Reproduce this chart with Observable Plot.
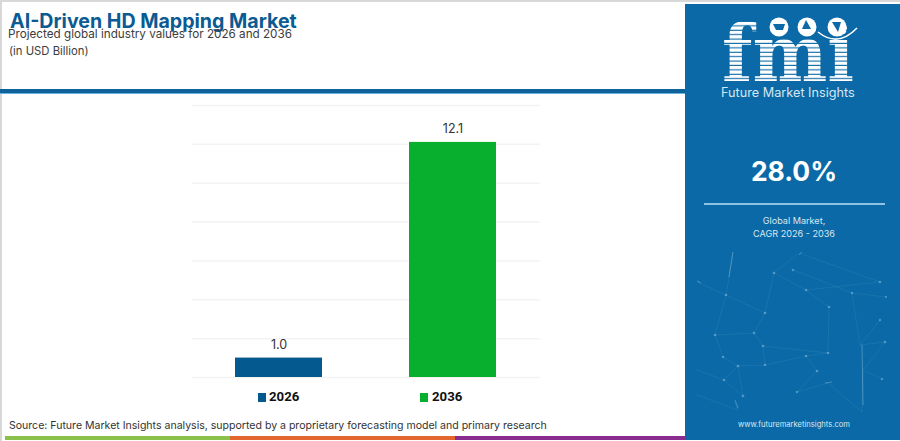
<!DOCTYPE html>
<html>
<head>
<meta charset="utf-8">
<script src="https://cdn.jsdelivr.net/npm/d3@7"></script>
<script src="https://cdn.jsdelivr.net/npm/@observablehq/plot@0.6"></script>
<style>
html,body{margin:0;padding:0;background:#fff;width:900px;height:441px;overflow:hidden}
body{position:relative;font-family:Inter,"Noto Sans",sans-serif}
#chart{position:absolute;left:0;top:0}
#chart svg{display:block;background:transparent}
.t{position:absolute;white-space:nowrap}
.b{position:absolute}
</style>
</head>
<body>
<div class="b" style="left:0;top:0;width:900px;height:2px;background:#d8d8d8"></div>
<div class="b" style="left:0;top:0;width:2px;height:441px;background:#d8d8d8"></div>
<div class="b" style="left:0;top:89px;width:686px;height:4px;background:#0f639c"></div>
<div class="b" style="left:0;top:93px;width:686px;height:1px;background:#6fb3dd"></div>
<div id="chart"></div>
<div class="t" id="title" style="left:10px;top:8px;font-size:19.6px;line-height:26px;font-weight:700;color:#0b5b92">AI-Driven HD Mapping Market</div>
<div class="t" style="left:8px;top:26px;font-size:11.7px;line-height:16px;color:#3c3c3c">Projected global industry values for 2026 and 2036</div>
<div class="t" style="left:9px;top:43px;font-size:11.3px;line-height:16px;color:#3c3c3c">(in USD Billion)</div>
<div class="b" style="left:258px;top:393px;width:8px;height:9px;background:#04598f"></div>
<div class="t" style="left:269px;top:389px;font-family:Roboto,sans-serif;font-size:13.2px;line-height:16px;font-weight:700;color:#111">2026</div>
<div class="b" style="left:420px;top:393px;width:8px;height:9px;background:#08ae2d"></div>
<div class="t" style="left:432px;top:389px;font-family:Roboto,sans-serif;font-size:13.2px;line-height:16px;font-weight:700;color:#111">2036</div>
<div class="t" style="left:9px;top:418px;font-size:10.55px;line-height:16px;color:#333">Source: Future Market Insights analysis, supported by a proprietary forecasting model and primary research</div>
<div class="b" style="left:5px;top:436px;width:225px;height:4px;background:#8bc04a"></div>
<div class="b" style="left:230px;top:436px;width:225px;height:4px;background:#e4662f"></div>
<div class="b" style="left:455px;top:436px;width:230px;height:4px;background:#8a2b8f"></div>
<div class="b" style="left:685px;top:4px;width:215px;height:436px;background:#0a69a6"></div>
<svg class="b" style="left:685px;top:4px" width="215" height="436" viewBox="685 4 215 436">
  <defs>
    <pattern id="st" width="4" height="4.4" patternUnits="userSpaceOnUse">
      <rect width="4" height="3.3" fill="#fff"/>
    </pattern>
    <filter id="soft"><feGaussianBlur stdDeviation=".45"/></filter>
  </defs>
  <g font-family="'DejaVu Serif',serif" font-weight="700" fill="url(#st)">
    <text x="722" y="81" font-size="78" textLength="132" lengthAdjust="spacingAndGlyphs">fmi</text>
  </g>
  <circle cx="779" cy="27" r="9.5" fill="#fff"/><circle cx="807" cy="27" r="9.5" fill="#fff"/><circle cx="837" cy="27" r="9.5" fill="#fff"/>
  <path d="M773 24h12l-2 6h-7z" fill="#0a69a6"/><path d="M806 20l5 9h-9z" fill="#0a69a6"/><path d="M832 22h9l-3 10z" fill="#0a69a6"/>
  <path d="M818 32q20 16 39 -4" fill="none" stroke="#fff" stroke-width="1.5"/>
  <g filter="url(#soft)">
    <g stroke="#9fcbe4" stroke-opacity=".15" stroke-width=".7" fill="none">
      <path d="M733 252L729 277L726 295L697 282M726 295L765 313L774 273L799 253L880 282L806 290L774 273M793 270L852 293L886 297M806 290L829 307L828 353L763 346L754 333L715 335L723 357L738 366L765 365L763 346M715 335L726 295M765 313L754 333M738 366L724 380L743 396L738 366M765 365L806 356L817 371L797 392L828 383L862 412M806 356L828 353M860 345L885 342L863 370L862 412M860 345L852 293M735 403L738 410L697 395M724 380L697 370M880 320L860 345M882 379L863 370"/>
    </g>
    <g stroke="#b8d9ec" stroke-opacity=".35" stroke-width="1" fill="none">
      <path d="M733 252L729 277M735 400L738 408M825 383L832 382M862 345L863 405M697 281L701 283M799 255L802 252"/>
    </g>
    <g fill="#b8d9ec" fill-opacity=".4">
      <circle cx="726" cy="295" r="1.3"/><circle cx="774" cy="273" r="1.3"/><circle cx="793" cy="270" r="1.2"/><circle cx="880" cy="282" r="1.3"/><circle cx="806" cy="290" r="1.3"/><circle cx="852" cy="293" r="1.2"/><circle cx="886" cy="297" r="1.1"/><circle cx="765" cy="313" r="1.3"/><circle cx="829" cy="307" r="1.3"/><circle cx="880" cy="320" r="1.2"/><circle cx="754" cy="333" r="1.3"/><circle cx="715" cy="335" r="1.3"/><circle cx="763" cy="346" r="1.3"/><circle cx="806" cy="356" r="1.3"/><circle cx="828" cy="353" r="1.3"/><circle cx="885" cy="342" r="1.3"/><circle cx="723" cy="357" r="1.3"/><circle cx="738" cy="366" r="1.3"/><circle cx="765" cy="365" r="1.3"/><circle cx="817" cy="371" r="1.3"/><circle cx="724" cy="380" r="1.3"/><circle cx="743" cy="396" r="1.3"/><circle cx="797" cy="392" r="1.2"/><circle cx="882" cy="379" r="1.2"/>
    </g>
  </g>
  <rect x="704" y="203" width="181" height="2" fill="#8fc3e3"/>
</svg>
<div class="t" style="left:721px;top:85px;font-size:12.7px;line-height:16px;color:#d5e6f2">Future Market Insights</div>
<div class="t" style="left:685px;top:154px;width:218px;text-align:center;font-size:26.5px;line-height:34px;font-weight:700;color:#fff">28.0%</div>
<div class="t" style="left:685px;top:215px;width:218px;text-align:center;font-size:9.1px;line-height:12.5px;color:#d7e8f3">Global Market,<br>CAGR 2026 - 2036</div>
<div class="t" style="left:685px;top:419px;width:218px;text-align:center;font-size:7.6px;line-height:12px;color:#d7e8f3">www.futuremarketinsights.com</div>
<script>
const years = ["2026", "2036"];
const values = [1.0, 12.1];
const labels = ["1.0", "12.1"];
const colors = ["#04598f", "#08ae2d"];
const gridTicks = [0, 2, 4, 6, 8, 10, 12, 14];
const rows = years.map((year, i) => ({year, value: values[i], label: labels[i], color: colors[i]}));
const plot = Plot.plot({
  width: 900,
  height: 441,
  marginLeft: 192,
  marginRight: 360,
  marginTop: 105,
  marginBottom: 64,
  style: {background: "transparent", fontFamily: "Inter, 'Noto Sans', sans-serif"},
  x: {domain: years, range: [191, 539], paddingInner: 0.5, paddingOuter: 0.25, axis: null},
  y: {domain: [0, 14], range: [377, 105], axis: null},
  marks: [
    Plot.ruleY(gridTicks, {stroke: "#f3f3f3", strokeWidth: 1.5}),
    Plot.barY(rows, {x: "year", y: "value", fill: "color"}),
    Plot.text(rows, {x: "year", y: "value", text: "label", dy: -13, fontSize: 12.5, fill: "#333"})
  ]
});
document.getElementById("chart").appendChild(plot);
</script>
</body>
</html>
